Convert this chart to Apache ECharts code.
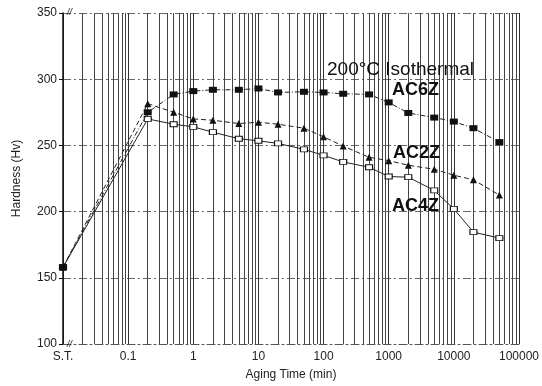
<!DOCTYPE html>
<html>
<head>
<meta charset="utf-8">
<script src="https://cdn.jsdelivr.net/npm/echarts@6/dist/echarts.min.js"></script>
<style>
  html, body { margin: 0; padding: 0; background: #fff; }
  #chart { width: 542px; height: 386px; }
</style>
</head>
<body>
<div id="chart"></div>
<script>
// S.T. (solution treated) is plotted at the left end of the log axis
const ST = 0.01;
const times = [ST, 0.2, 0.5, 1, 2, 5, 10, 20, 50, 100, 200, 500, 1000, 2000, 5000, 10000, 20000, 50000];
const ac6z = [158, 275, 288.5, 291, 292, 292, 293, 290, 290.5, 290, 289, 288.5, 282.5, 274.5, 271, 268, 263, 252.5];
const ac2z = [158, 281.5, 275, 270, 269, 266.5, 267.5, 266, 263, 256.5, 249.5, 241, 238.5, 235, 232, 227.5, 224, 212.5];
const ac4z = [158, 270, 266, 264, 260, 255, 253.5, 251.5, 247, 242.5, 237.5, 233.5, 226.5, 226, 216, 202, 184.5, 180];
const yTicks = [100, 150, 200, 250, 300, 350];

// minor log grid lines 2..9 in every decade
const minorLines = [];
for (let d = -2; d <= 4; d++) {
  for (let m = 2; m <= 9; m++) minorLines.push({ xAxis: m * Math.pow(10, d) });
}

const font = 'Liberation Sans';
const pairs = arr => times.map((t, i) => [t, arr[i]]);

const chart = echarts.init(document.getElementById('chart'));
chart.setOption({
  animation: false,
  backgroundColor: '#fff',
  grid: { left: 63, right: 20, top: 13, bottom: 40 },
  xAxis: {
    type: 'log',
    min: 0.01,
    max: 100000,
    logBase: 10,
    name: 'Aging Time (min)',
    nameLocation: 'middle',
    nameGap: 25,
    nameTextStyle: { fontFamily: font, fontSize: 12, color: '#222' },
    axisLine: { lineStyle: { color: '#555', type: [8, 3, 2, 3] } },
    axisTick: { show: false },
    axisLabel: {
      fontFamily: font, fontSize: 12, color: '#222', margin: 7,
      formatter: v => (v < 0.05 ? 'S.T.' : (v < 1 ? '0.1' : String(Math.round(v))))
    },
    splitLine: { show: true, lineStyle: { color: '#333', width: 1 } }
  },
  yAxis: {
    type: 'value',
    min: yTicks[0],
    max: yTicks[yTicks.length - 1],
    interval: 50,
    name: 'Hardness (Hv)',
    nameLocation: 'middle',
    nameGap: 40,
    nameTextStyle: { fontFamily: font, fontSize: 12, color: '#222' },
    axisLine: { show: true, lineStyle: { color: '#111', width: 1.5 } },
    axisTick: { show: true, length: 4, lineStyle: { color: '#111' } },
    axisLabel: { fontFamily: font, fontSize: 12, color: '#222', margin: 6 },
    splitLine: { show: true, lineStyle: { color: '#666', type: [8, 3, 2, 3] } }
  },
  series: [
    {
      name: 'AC4Z',
      type: 'line',
      data: pairs(ac4z),
      symbol: 'rect',
      symbolSize: [7, 5],
      itemStyle: { color: '#fff', borderColor: '#111', borderWidth: 1 },
      lineStyle: { color: '#222', width: 1 },
      markLine: {
        silent: true,
        symbol: ['none', 'none'],
        label: { show: false },
        lineStyle: { color: '#444', width: 1, type: 'solid' },
        data: minorLines
      },
      z: 5
    },
    {
      name: 'AC2Z',
      type: 'line',
      data: pairs(ac2z),
      symbol: 'triangle',
      symbolSize: 7,
      itemStyle: { color: '#111' },
      lineStyle: { color: '#222', width: 1, type: [5, 3] },
      z: 6
    },
    {
      name: 'AC6Z',
      type: 'line',
      data: pairs(ac6z),
      symbol: 'rect',
      symbolSize: [8, 6],
      itemStyle: { color: '#111' },
      lineStyle: { color: '#222', width: 1, type: [5, 2, 1, 2] },
      z: 7
    }
  ],
  graphic: [
    { type: 'text', left: 327, top: 60, z: 10,
      style: { text: '200°C Isothermal', font: '19px "Liberation Sans"', fill: '#111' } },
    { type: 'text', left: 392, top: 81, z: 10,
      style: { text: 'AC6Z', font: 'bold 18px "Liberation Sans"', fill: '#111' } },
    { type: 'text', left: 393, top: 144, z: 10,
      style: { text: 'AC2Z', font: 'bold 18px "Liberation Sans"', fill: '#111' } },
    { type: 'text', left: 392, top: 197, z: 10,
      style: { text: 'AC4Z', font: 'bold 18px "Liberation Sans"', fill: '#111' } },
    { type: 'text', left: 67, top: 8, z: 10,
      style: { text: '//', font: 'italic 9px "Liberation Sans"', fill: '#111' } },
    { type: 'text', left: 67, top: 340, z: 10,
      style: { text: '//', font: 'italic 9px "Liberation Sans"', fill: '#111' } }
  ]
});
</script>
</body>
</html>
